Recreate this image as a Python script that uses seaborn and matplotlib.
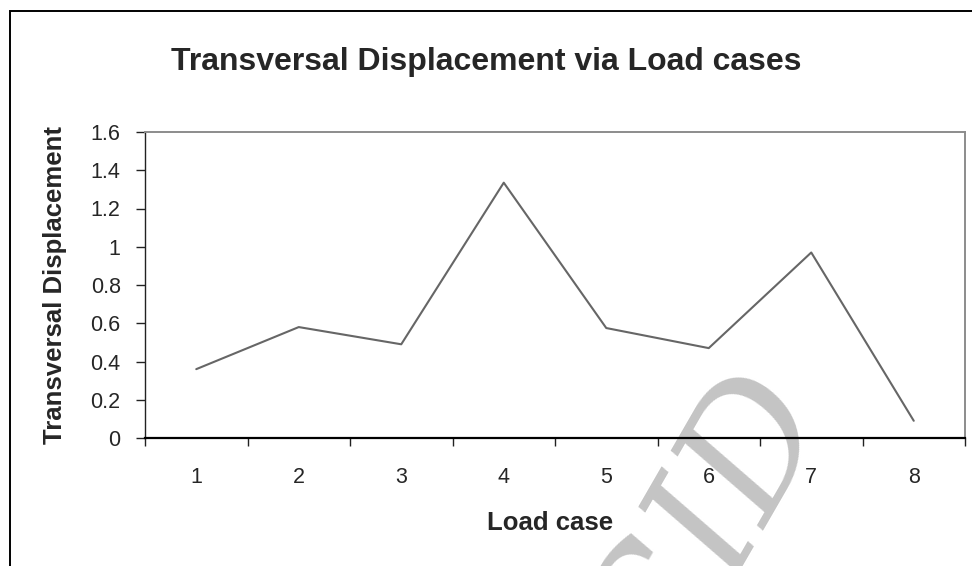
import numpy as np
import pandas as pd
import seaborn as sns
import matplotlib.pyplot as plt
from matplotlib.patches import Rectangle

# values
load_cases = [1, 2, 3, 4, 5, 6, 7, 8]
displacement = [0.36, 0.58, 0.49, 1.335, 0.575, 0.47, 0.97, 0.09]
y_ticks = [0, 0.2, 0.4, 0.6, 0.8, 1, 1.2, 1.4, 1.6]
y_tick_labels = ["0", "0.2", "0.4", "0.6", "0.8", "1", "1.2", "1.4", "1.6"]

df = pd.DataFrame({"case": load_cases, "disp": displacement})

sns.set_style("white")
plt.rcParams['font.family'] = ['Liberation Sans', 'DejaVu Sans']

fig = plt.figure(figsize=(9.72, 5.66), dpi=100)
ax = fig.add_axes([145 / 972, 1 - 438 / 566, (965 - 145) / 972, (438 - 132) / 566])
ax.patch.set_alpha(0)

sns.lineplot(data=df, x="case", y="disp", ax=ax, color="#666666", linewidth=1.5)

ax.set_xlim(0.5, 8.5)
ax.set_ylim(0, 1.6)
ax.set_yticks(y_ticks)
ax.set_yticklabels(y_tick_labels, fontsize=15.5)
# category labels sit between the tick marks
ax.set_xticks(np.arange(0.5, 9, 1))
ax.set_xticklabels([])
ax.set_xticks(load_cases, minor=True)
ax.set_xticklabels([str(c) for c in load_cases], minor=True, fontsize=15.5)
ax.tick_params(axis="x", which="major", bottom=True, direction="out", length=6, width=1.0, color="#222222")
ax.tick_params(axis="x", which="minor", bottom=True, length=0, pad=21)
ax.tick_params(axis="y", left=True, direction="out", length=6.5, width=1.0, color="#222222", pad=11)

for side in ["top", "right"]:
    ax.spines[side].set_color("#8c8c8c")
    ax.spines[side].set_linewidth(1.4)
ax.spines["left"].set_color("#222222")
ax.spines["left"].set_linewidth(1.0)
ax.spines["bottom"].set_color("black")
ax.spines["bottom"].set_linewidth(1.6)

ax.set_xlabel("Load case", fontsize=18.5, fontweight="bold", va="top")
ax.xaxis.set_label_coords(0.494, -0.24)
ax.set_ylabel("Transversal Displacement", fontsize=18.5, fontweight="bold")
ax.yaxis.set_label_coords(-0.095, 0.5)

fig.text(0.5005, 1 - 70 / 566, "Transversal Displacement via Load cases",
         ha="center", va="baseline", fontsize=23, fontweight="bold")

# outer chart frame, right and bottom edges fall outside the picture
fig.patches.append(Rectangle((9.5 / 972, -0.1), 1.0, 1.1 - 11 / 566,
                             transform=fig.transFigure, fill=False,
                             edgecolor="black", linewidth=1.4))

# watermark behind the plot
fig.text(0.728, 0.065, "GID", fontsize=118, family="DejaVu Serif", style="italic",
         color="#c4c4c4", rotation=60, ha="center", va="center", zorder=-1)

fig.savefig("out.png", dpi=100)
